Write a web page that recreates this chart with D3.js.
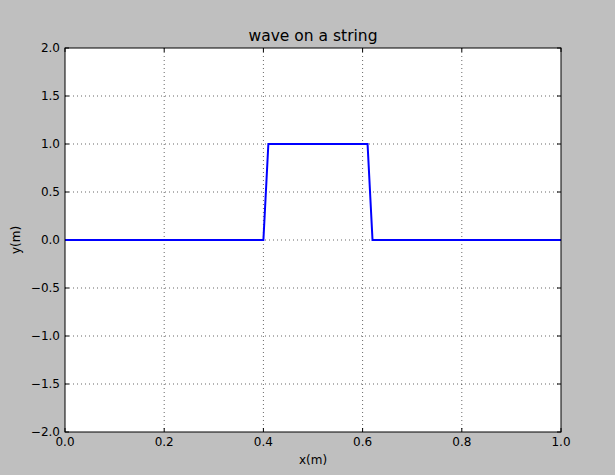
<!DOCTYPE html>
<html>
<head>
<meta charset="utf-8">
<script src="https://cdn.jsdelivr.net/npm/d3@7"></script>
<style>
  body { margin: 0; background: #bfbfbf; }
  svg { display: block; font-family: "DejaVu Sans", sans-serif; }
  .tick-label { font-size: 12px; fill: #000; }
  .grid line { stroke: #000; stroke-width: 0.6; stroke-dasharray: 1,3; }
</style>
</head>
<body>
<div id="chart"></div>
<script>
// wave shape points
const xVals = [0.0, 0.40, 0.41, 0.61, 0.62, 1.0];
const yVals = [0.0, 0.0, 1.0, 1.0, 0.0, 0.0];
const xTicks = [0.0, 0.2, 0.4, 0.6, 0.8, 1.0];
const yTicks = [-2.0, -1.5, -1.0, -0.5, 0.0, 0.5, 1.0, 1.5, 2.0];

const W = 615, H = 475;
const margin = { top: 48, right: 54, bottom: 43, left: 65 };
const innerW = W - margin.left - margin.right;
const innerH = H - margin.top - margin.bottom;

let svg = d3.select("#chart").append("svg").attr("width", W).attr("height", H);
svg.append("rect").attr("width", W).attr("height", H).attr("fill", "#bfbfbf");

let g = svg.append("g").attr("transform", "translate(" + margin.left + "," + margin.top + ")");

let x = d3.scaleLinear().domain([0, 1]).range([0, innerW]);
let y = d3.scaleLinear().domain([-2, 2]).range([innerH, 0]);

g.append("rect").attr("width", innerW).attr("height", innerH).attr("fill", "#fff");

// grid
let grid = g.append("g").classed("grid", true);
grid.selectAll(".gx").data(xTicks.slice(1, -1)).join("line")
    .attr("x1", d => x(d)).attr("x2", d => x(d)).attr("y1", 0).attr("y2", innerH);
grid.selectAll(".gy").data(yTicks.slice(1, -1)).join("line").attr("class", "gy")
    .attr("y1", d => y(d)).attr("y2", d => y(d)).attr("x1", 0).attr("x2", innerW);

// inward ticks on all four sides
let tickLen = 4;
let ticks = g.append("g").attr("stroke", "#000").attr("stroke-width", 1);
xTicks.forEach(t => {
    ticks.append("line").attr("x1", x(t)).attr("x2", x(t)).attr("y1", innerH).attr("y2", innerH - tickLen);
    ticks.append("line").attr("x1", x(t)).attr("x2", x(t)).attr("y1", 0).attr("y2", tickLen);
});
yTicks.forEach(t => {
    ticks.append("line").attr("y1", y(t)).attr("y2", y(t)).attr("x1", 0).attr("x2", tickLen);
    ticks.append("line").attr("y1", y(t)).attr("y2", y(t)).attr("x1", innerW).attr("x2", innerW - tickLen);
});

// the wave
let line = d3.line().x((d, i) => x(xVals[i])).y(d => y(d));
g.append("path").datum(yVals).attr("d", line)
    .attr("fill", "none").attr("stroke", "#0000ff").attr("stroke-width", 2);

// frame
g.append("rect").attr("width", innerW).attr("height", innerH)
    .attr("fill", "none").attr("stroke", "#000").attr("stroke-width", 1);

// tick labels
g.selectAll(".xl").data(xTicks).join("text").attr("class", "tick-label")
    .attr("x", d => x(d)).attr("y", innerH + 14).attr("text-anchor", "middle")
    .text(d => d.toFixed(1));
g.selectAll(".yl").data(yTicks).join("text").attr("class", "tick-label yl")
    .attr("x", -5).attr("y", d => y(d)).attr("dy", "0.36em").attr("text-anchor", "end")
    .text(d => d.toFixed(1).replace("-", "\u2212"));

// titles
svg.append("text").attr("x", margin.left + innerW / 2).attr("y", 41).attr("text-anchor", "middle")
    .style("font-size", "15.5px").text("wave on a string");
svg.append("text").attr("x", margin.left + innerW / 2).attr("y", 464).attr("text-anchor", "middle")
    .style("font-size", "12px").text("x(m)");
svg.append("text").attr("transform", "translate(20," + (margin.top + innerH / 2) + ") rotate(-90)")
    .attr("text-anchor", "middle").style("font-size", "12px").text("y(m)");
</script>
</body>
</html>
